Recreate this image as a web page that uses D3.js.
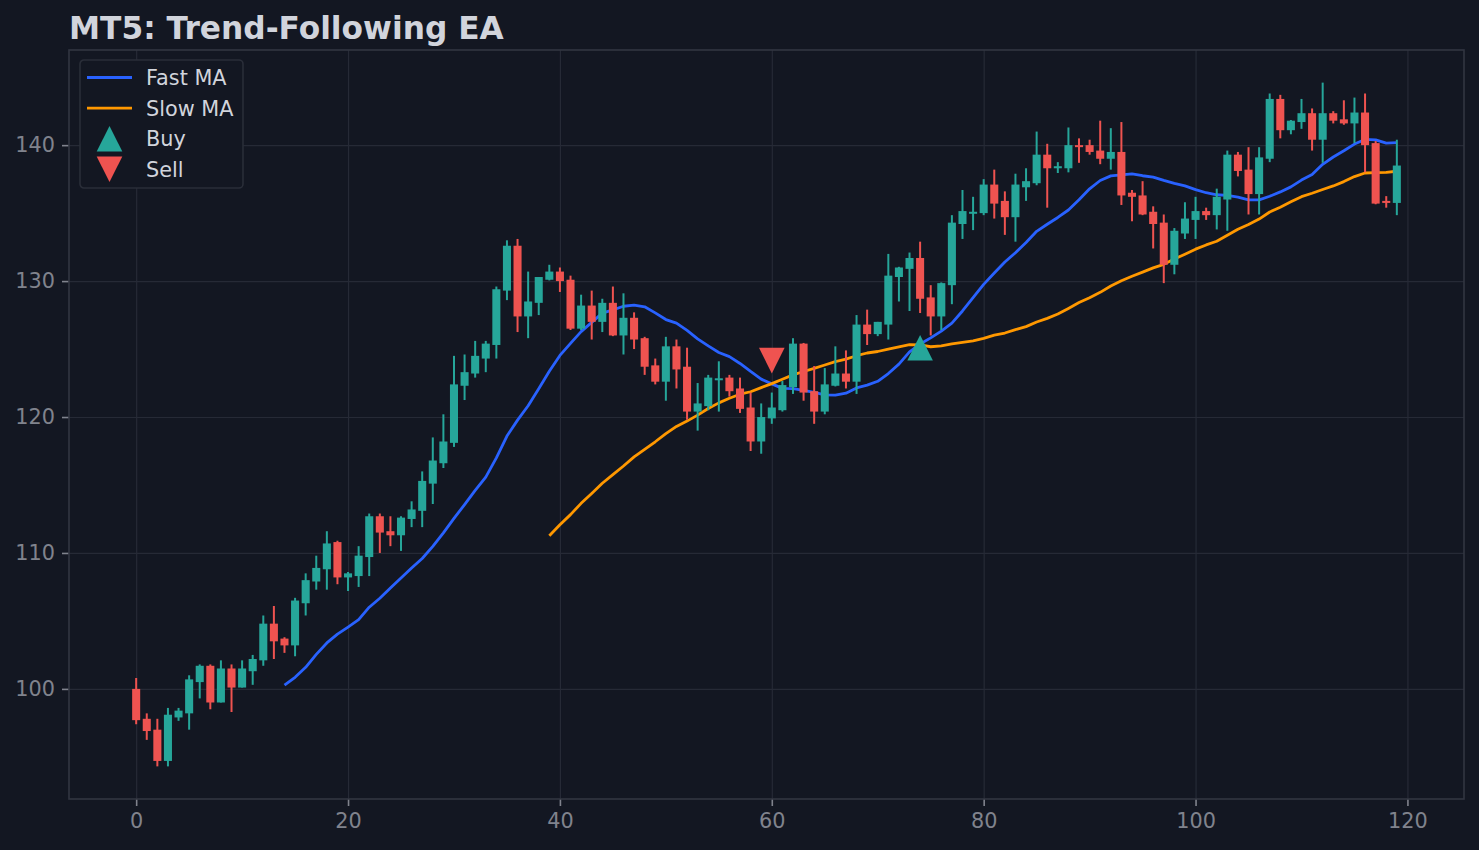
<!DOCTYPE html>
<html>
<head>
<meta charset="utf-8">
<script src="https://cdn.jsdelivr.net/npm/d3@7"></script>
<style>
  body { margin: 0; background: #131722; }
  svg { display: block; font-family: "DejaVu Sans", sans-serif; }
</style>
</head>
<body>
<div id="chart-area"></div>
<script>
// Candle data, one entry per bar (index 0..119)
const opens = [100.0, 97.8, 97.0, 94.7, 97.9, 98.2, 100.5, 101.7, 99.0, 101.5,
  100.1, 101.3, 102.1, 104.8, 103.7, 103.2, 106.3, 107.9, 108.8, 110.8,
  108.2, 108.3, 109.7, 112.7, 111.6, 111.3, 112.5, 113.1, 115.1, 116.6,
  118.1, 122.3, 123.2, 124.3, 125.3, 129.3, 132.6, 127.4, 128.4, 130.1,
  130.7, 130.1, 126.5, 128.2, 127.0, 128.4, 126.0, 127.3, 125.8, 123.8,
  122.6, 125.2, 123.7, 120.4, 120.8, 122.75, 122.9, 122.1, 120.7, 118.2,
  119.9, 120.5, 122.2, 125.4, 121.9, 120.4, 122.3, 123.2, 122.6, 126.8,
  126.1, 126.8, 130.3, 130.9, 131.7, 128.8, 127.4, 129.7, 134.2, 134.95,
  135.0, 137.1, 135.9, 134.7, 136.9, 137.2, 139.3, 138.3, 138.3, 140.0,
  140.0, 139.6, 139.0, 139.5, 136.5, 136.3, 135.1, 134.3, 131.2, 133.5,
  134.5, 135.15, 134.85, 136.0, 139.3, 138.2, 136.4, 139.0, 143.4, 141.1,
  141.7, 142.35, 140.4, 142.35, 141.9, 141.6, 142.4, 140.15, 135.9, 135.75];

const highs = [100.8, 98.2, 97.8, 98.6, 98.6, 101.0, 101.8, 101.8, 102.1, 101.8,
  102.1, 102.5, 105.4, 106.1, 103.8, 106.7, 108.5, 109.8, 111.6, 110.9,
  108.6, 110.5, 112.9, 112.9, 112.7, 112.7, 113.8, 116.0, 118.5, 120.2,
  124.5, 124.6, 125.6, 125.6, 129.6, 133.0, 133.1, 130.7, 130.3, 131.2,
  131.0, 130.4, 129.0, 129.3, 128.7, 129.6, 129.1, 127.7, 125.9, 124.3,
  125.9, 125.7, 125.1, 122.5, 123.1, 124.1, 123.1, 122.9, 121.8, 121.0,
  121.8, 122.65, 125.8, 125.45, 123.75, 123.6, 125.2, 124.9, 127.5, 127.9,
  127.0, 132.0, 131.05, 132.1, 132.9, 129.7, 129.9, 134.85, 136.7, 136.2,
  137.5, 138.2, 136.6, 137.9, 138.3, 141.0, 140.1, 138.75, 141.3, 140.5,
  140.4, 141.8, 141.25, 141.7, 136.7, 137.35, 135.5, 134.9, 133.9, 135.8,
  136.2, 135.4, 136.8, 139.6, 139.5, 139.85, 139.85, 143.8, 143.7, 141.85,
  143.4, 142.7, 144.6, 142.5, 143.3, 143.5, 143.8, 140.3, 136.25, 140.4];

const lows = [97.4, 96.25, 94.3, 94.3, 97.65, 97.0, 99.3, 98.5, 99.0, 98.3,
  100.1, 100.3, 101.7, 102.2, 102.65, 102.4, 105.4, 107.3, 107.3, 107.7,
  107.2, 107.5, 108.3, 110.0, 110.5, 110.15, 111.9, 111.9, 113.6, 116.25,
  117.8, 121.25, 122.9, 123.3, 124.3, 128.6, 126.25, 125.8, 127.5, 130.05,
  129.2, 126.4, 126.4, 125.7, 126.25, 125.95, 124.6, 125.0, 123.1, 122.4,
  121.2, 122.1, 119.8, 119.0, 120.5, 120.4, 121.5, 120.3, 117.5, 117.3,
  119.5, 120.4, 121.7, 121.2, 119.5, 120.2, 122.25, 122.1, 121.7, 125.3,
  125.95, 125.7, 128.5, 127.8, 127.65, 126.0, 126.4, 128.3, 133.1, 133.75,
  134.85, 134.6, 133.4, 132.9, 135.9, 137.05, 135.4, 137.95, 138.0, 138.7,
  139.3, 138.6, 138.2, 135.6, 134.4, 134.85, 132.4, 129.85, 130.5, 133.1,
  133.1, 134.5, 133.8, 133.7, 137.7, 134.9, 134.9, 138.75, 140.5, 140.8,
  141.2, 139.6, 138.7, 141.6, 141.5, 140.15, 138.0, 135.65, 135.4, 134.85];

const closes = [97.7, 96.9, 94.7, 98.1, 98.4, 100.7, 101.7, 99.0, 101.5, 100.1,
  101.5, 102.2, 104.8, 103.5, 103.2, 106.5, 108.0, 108.9, 110.7, 108.2,
  108.5, 109.8, 112.7, 111.5, 111.3, 112.6, 113.2, 115.3, 116.8, 118.2,
  122.4, 123.3, 124.5, 125.4, 129.4, 132.6, 127.4, 128.5, 130.3, 130.7,
  130.0, 126.5, 128.2, 127.0, 128.4, 126.0, 127.3, 125.7, 123.7, 122.6,
  125.2, 123.5, 120.4, 121.0, 122.9, 122.85, 121.9, 120.6, 118.2, 120.0,
  120.7, 122.35, 125.4, 121.8, 120.4, 122.4, 123.2, 122.6, 126.8, 126.1,
  127.0, 130.4, 131.0, 131.7, 128.7, 127.4, 129.85, 134.3, 135.15, 135.1,
  137.1, 135.7, 134.7, 137.1, 137.35, 139.3, 138.3, 138.45, 140.0, 139.9,
  139.5, 139.0, 139.5, 136.3, 136.2, 134.9, 134.2, 131.2, 133.7, 134.6,
  135.15, 134.85, 136.2, 139.3, 138.1, 136.4, 139.1, 143.4, 141.1, 141.8,
  142.35, 140.4, 142.35, 141.8, 141.6, 142.4, 140.0, 135.7, 135.75, 138.5];

// Moving averages (null before the line starts)
const fastMA = [null, null, null, null, null, null, null, null, null, null,
  null, null, null, null, 100.27, 100.85, 101.59, 102.54, 103.38, 104.03,
  104.55, 105.09, 106.01, 106.67, 107.42, 108.16, 108.89, 109.59, 110.48, 111.48,
  112.54, 113.56, 114.60, 115.58, 116.99, 118.60, 119.77, 120.83, 122.08, 123.37,
  124.53, 125.42, 126.28, 126.96, 127.64, 127.88, 128.15, 128.23, 128.11, 127.66,
  127.17, 126.91, 126.37, 125.75, 125.23, 124.75, 124.44, 123.94, 123.35, 122.79,
  122.44, 122.11, 122.09, 121.96, 121.81, 121.63, 121.61, 121.75, 122.14, 122.35,
  122.63, 123.20, 123.89, 124.79, 125.37, 125.82, 126.32, 126.91, 127.80, 128.78,
  129.76, 130.59, 131.40, 132.09, 132.84, 133.66, 134.18, 134.68, 135.23, 135.98,
  136.79, 137.40, 137.74, 137.82, 137.89, 137.75, 137.65, 137.41, 137.19, 137.00,
  136.73, 136.50, 136.35, 136.30, 136.18, 135.97, 135.98, 136.24, 136.56, 136.93,
  137.43, 137.84, 138.59, 139.13, 139.59, 140.08, 140.42, 140.39, 140.15, 140.18];

const slowMA = [null, null, null, null, null, null, null, null, null, null,
  null, null, null, null, null, null, null, null, null, null,
  null, null, null, null, null, null, null, null, null, null,
  null, null, null, null, null, null, null, null, null, 111.27,
  112.08, 112.82, 113.65, 114.38, 115.13, 115.76, 116.40, 117.07, 117.62, 118.18,
  118.78, 119.31, 119.70, 120.14, 120.63, 121.04, 121.38, 121.68, 121.86, 122.16,
  122.46, 122.78, 123.10, 123.35, 123.58, 123.83, 124.08, 124.26, 124.51, 124.71,
  124.82, 125.00, 125.16, 125.32, 125.30, 125.17, 125.23, 125.38, 125.50, 125.61,
  125.79, 126.02, 126.18, 126.43, 126.65, 126.99, 127.26, 127.58, 127.99, 128.42,
  128.78, 129.17, 129.64, 130.03, 130.36, 130.66, 130.97, 131.23, 131.62, 131.98,
  132.35, 132.66, 132.93, 133.37, 133.81, 134.16, 134.56, 135.08, 135.43, 135.83,
  136.21, 136.46, 136.74, 137.00, 137.32, 137.69, 137.95, 137.98, 138.00, 138.08];

// Trade signals
const buyIndex = [74];
const buyPrice = [125.1];
const sellIndex = [60];
const sellPrice = [124.15];

// Axis ticks
const xTicks = [0, 20, 40, 60, 80, 100, 120];
const yTicks = [100, 110, 120, 130, 140];

const BG = '#131722';
const GRID = '#262a36';
const SPINE = '#323642';
const TEXT = '#d1d4dc';
const TICK = '#80838d';
const UP = '#26a69a';
const DOWN = '#ef5350';
const FAST = '#2962ff';
const SLOW = '#ff9800';

const wChart = 1479;
const hChart = 850;
const margin = {top: 50, right: 15, bottom: 51, left: 69};
const wGraph = wChart - margin.left - margin.right;
const hGraph = hChart - margin.top - margin.bottom;

const svg = d3.select('#chart-area')
    .append('svg')
    .attr('width', wChart)
    .attr('height', hChart);

svg.append('rect')
    .attr('width', wChart)
    .attr('height', hChart)
    .attr('fill', BG);

// Title
svg.append('text')
    .attr('x', margin.left)
    .attr('y', 39)
    .attr('font-size', '31.25px')
    .attr('font-weight', 'bold')
    .attr('fill', TEXT)
    .text('MT5: Trend-Following EA');

const graph = svg.append('g')
    .attr('transform', `translate(${margin.left}, ${margin.top})`);

const candles = opens.map((o, i) => ({
    i: i, open: o, high: highs[i], low: lows[i], close: closes[i]
}));

const xScale = d3.scaleLinear()
    .domain([-6.34, 125.34])
    .range([0, wGraph]);

const yScale = d3.scaleLinear()
    .domain([91.9, 147.0])
    .range([hGraph, 0]);

// Grid
graph.append('g')
    .attr('class', 'x-grid')
    .attr('transform', `translate(0, ${hGraph})`)
    .call(d3.axisBottom(xScale).tickValues(xTicks).tickSize(-hGraph).tickFormat(''))
    .call(g => g.select('.domain').remove())
    .call(g => g.selectAll('line').attr('stroke', GRID).attr('stroke-width', 1.2));

graph.append('g')
    .attr('class', 'y-grid')
    .call(d3.axisLeft(yScale).tickValues(yTicks).tickSize(-wGraph).tickFormat(''))
    .call(g => g.select('.domain').remove())
    .call(g => g.selectAll('line').attr('stroke', GRID).attr('stroke-width', 1.2));

// Moving averages
const maLine = d3.line()
    .defined(d => d != null)
    .x((d, i) => xScale(i))
    .y(d => yScale(d));

graph.append('path')
    .datum(fastMA)
    .attr('fill', 'none')
    .attr('stroke', FAST)
    .attr('stroke-width', 2.8)
    .attr('stroke-linejoin', 'round')
    .attr('d', maLine);

graph.append('path')
    .datum(slowMA)
    .attr('fill', 'none')
    .attr('stroke', SLOW)
    .attr('stroke-width', 2.8)
    .attr('stroke-linejoin', 'round')
    .attr('d', maLine);

// Candles
const bodyW = xScale(0.76) - xScale(0);
const colorOf = d => d.close >= d.open ? UP : DOWN;

const candleG = graph.selectAll('.candle')
    .data(candles)
    .enter()
    .append('g')
    .attr('class', 'candle');

candleG.append('line')
    .attr('x1', d => xScale(d.i))
    .attr('x2', d => xScale(d.i))
    .attr('y1', d => yScale(d.high))
    .attr('y2', d => yScale(d.low))
    .attr('stroke', colorOf)
    .attr('stroke-width', 2);

candleG.append('rect')
    .attr('x', d => xScale(d.i) - bodyW / 2)
    .attr('y', d => yScale(Math.max(d.open, d.close)))
    .attr('width', bodyW)
    .attr('height', d => Math.max(2, Math.abs(yScale(d.open) - yScale(d.close))))
    .attr('fill', colorOf);

// Signal markers
const triUp = 'M0,-12.8L12.8,12.8L-12.8,12.8Z';
const triDown = 'M0,12.8L12.8,-12.8L-12.8,-12.8Z';

graph.selectAll('.buy')
    .data(buyIndex)
    .enter()
    .append('path')
    .attr('class', 'buy')
    .attr('d', triUp)
    .attr('transform', (d, k) => `translate(${xScale(d)}, ${yScale(buyPrice[k])})`)
    .attr('fill', UP);

graph.selectAll('.sell')
    .data(sellIndex)
    .enter()
    .append('path')
    .attr('class', 'sell')
    .attr('d', triDown)
    .attr('transform', (d, k) => `translate(${xScale(d)}, ${yScale(sellPrice[k])})`)
    .attr('fill', DOWN);

// Axes
const xAxis = graph.append('g')
    .attr('class', 'x-axis')
    .attr('transform', `translate(0, ${hGraph})`)
    .call(d3.axisBottom(xScale).tickValues(xTicks).tickSize(7).tickPadding(7));

const yAxis = graph.append('g')
    .attr('class', 'y-axis')
    .call(d3.axisLeft(yScale).tickValues(yTicks).tickSize(7).tickPadding(7));

[xAxis, yAxis].forEach(ax => {
    ax.select('.domain').remove();
    ax.selectAll('line').attr('stroke', TICK).attr('stroke-width', 1.6);
    ax.selectAll('text')
        .attr('fill', TICK)
        .attr('font-size', '20.8px')
        .attr('font-family', '"DejaVu Sans", sans-serif');
});

// Frame
graph.append('rect')
    .attr('width', wGraph)
    .attr('height', hGraph)
    .attr('fill', 'none')
    .attr('stroke', SPINE)
    .attr('stroke-width', 1.6);

// Legend
const legend = svg.append('g')
    .attr('class', 'legend')
    .attr('transform', 'translate(80, 60)');

legend.append('rect')
    .attr('width', 163)
    .attr('height', 128)
    .attr('rx', 4)
    .attr('fill', BG)
    .attr('stroke', '#2a2e39')
    .attr('stroke-width', 1.6);

const legendItems = [
    {label: 'Fast MA', kind: 'line', color: FAST},
    {label: 'Slow MA', kind: 'line', color: SLOW},
    {label: 'Buy', kind: 'up', color: UP},
    {label: 'Sell', kind: 'down', color: DOWN}
];

const rows = legend.selectAll('.row')
    .data(legendItems)
    .enter()
    .append('g')
    .attr('class', 'row')
    .attr('transform', (d, i) => `translate(0, ${17.5 + i * 30.6})`);

rows.filter(d => d.kind === 'line')
    .append('line')
    .attr('x1', 7)
    .attr('x2', 52)
    .attr('stroke', d => d.color)
    .attr('stroke-width', 2.8);

rows.filter(d => d.kind !== 'line')
    .append('path')
    .attr('d', d => d.kind === 'up' ? triUp : triDown)
    .attr('transform', 'translate(29.5, 0)')
    .attr('fill', d => d.color);

rows.append('text')
    .attr('x', 66)
    .attr('y', 7.6)
    .attr('font-size', '20.8px')
    .attr('fill', TEXT)
    .text(d => d.label);
</script>
</body>
</html>
